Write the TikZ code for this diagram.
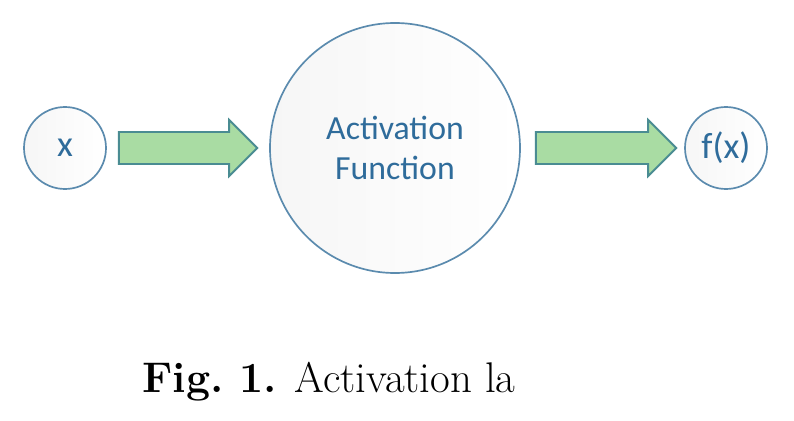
\documentclass[tikz,border=0pt]{standalone}
\usepackage{fontspec}
\usepackage{tikz}
\usepackage{xcolor}
\usetikzlibrary{calc}
\newfontfamily\calfont{Carlito}
\definecolor{ringblue}{HTML}{5B8BAE}
\definecolor{textblue}{HTML}{2F6C9B}
\definecolor{arrowgreen}{HTML}{A9DCA3}
\definecolor{arrowedge}{HTML}{4A8C92}
\tikzset{
	unit/.style={circle,draw=ringblue,line width=1.2pt,left color=gray!7,right color=white,
		text=textblue,font=\calfont\fontsize{26}{30}\selectfont,inner sep=0pt},
	arrowbox/.style={draw=arrowedge,fill=arrowgreen,line width=1.4pt,line join=miter}
}
% block arrow between two nodes
\def\blockarrow#1#2#3#4{
	\draw[arrowbox] ($(#1.east)+(#3,-16)$) -- ($(#2.west)+(-#4-28,-16)$)
	-- ($(#2.west)+(-#4-28,-28)$) -- ($(#2.west)+(-#4,0)$)
	-- ($(#2.west)+(-#4-28,28)$) -- ($(#2.west)+(-#4-28,16)$)
	-- ($(#1.east)+(#3,16)$) -- cycle;}

\begin{document}
\begin{tikzpicture}[x=0.025cm,y=-0.025cm]
	\useasboundingbox (0,0) rectangle (794,420);
	%三个圆形节点
	\node[unit,minimum size=82*0.025cm] (xin) at (65,148) {x};
	\node[unit,minimum size=250*0.025cm,align=center,
		font=\calfont\fontsize{24}{28.5}\selectfont] (act) at (395,148) {Activation\\Function};
	\node[unit,minimum size=82*0.025cm] (fx) at (726,148) {f(x)};
	
	\blockarrow{xin}{act}{12}{12};
	\blockarrow{act}{fx}{15}{8};
	
	%图题
	\node[anchor=base west,inner sep=0pt,font=\fontsize{30.5}{36}\selectfont] (cap) at (142,392)
		{\textbf{Fig.~1.} Activation la};
\end{tikzpicture}
\end{document}
